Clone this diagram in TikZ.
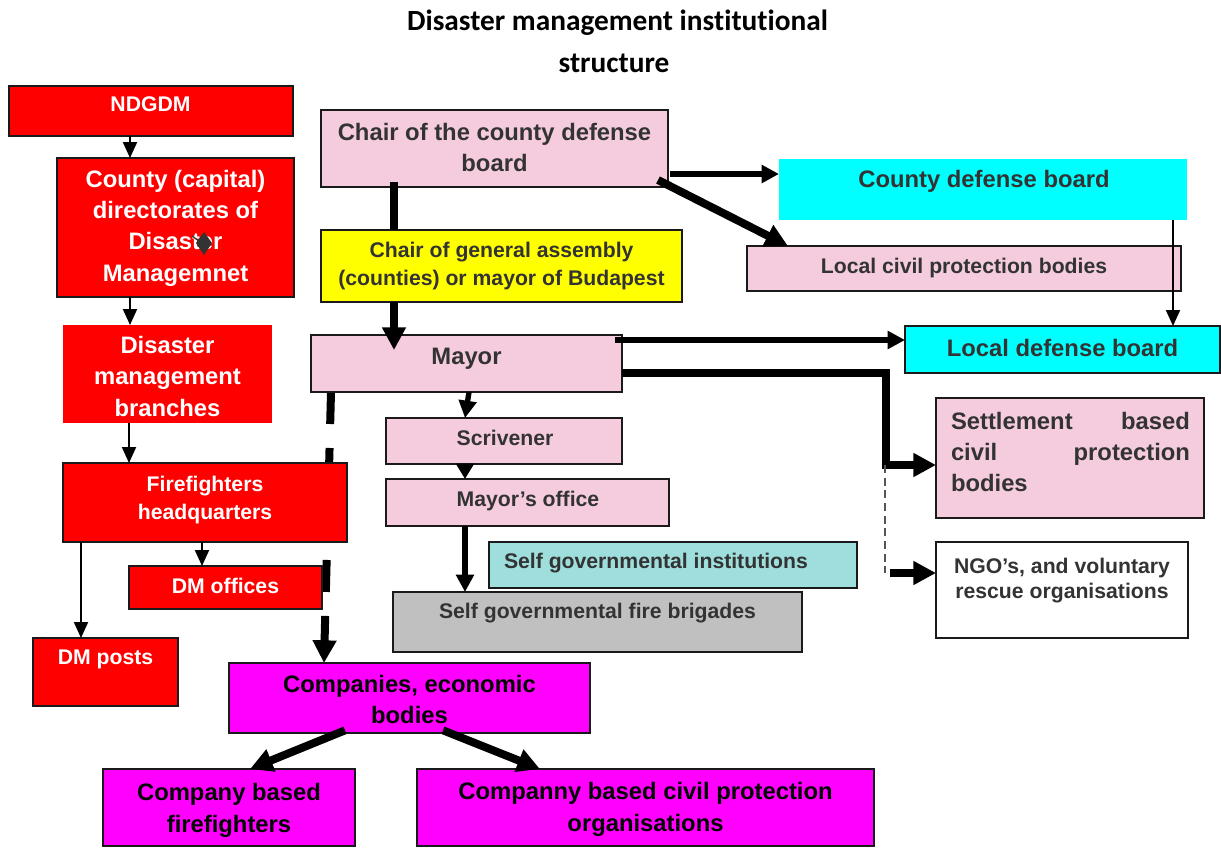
\documentclass[tikz,border=0pt]{standalone}
\usepackage{fontspec}
\setmainfont{Liberation Sans}
\newfontfamily\titlefont[Ligatures=NoCommon]{Carlito}
\usetikzlibrary{arrows.meta,calc}

\definecolor{redbox}{HTML}{FF0000}
\definecolor{pinkbox}{HTML}{F5CCDE}
\definecolor{yellowbox}{HTML}{FFFF00}
\definecolor{cyanbox}{HTML}{00FFFF}
\definecolor{tealbox}{HTML}{9EDEDC}
\definecolor{greybox}{HTML}{C0C0C0}
\definecolor{magbox}{HTML}{FF00FF}
\definecolor{ink}{HTML}{333333}
\definecolor{edge}{HTML}{1A1A1A}
\definecolor{dashgrey}{HTML}{555555}

\pgfdeclarelayer{back}
\pgfsetlayers{back,main}

% box helper: style, name, x1, y1, x2, y2 (pixel grid, y downwards)
\newcommand{\orgbox}[6][]{%
  \node[#1, minimum width={(#5-#3)*0.75pt}, minimum height={(#6-#4)*0.75pt}]
    (#2) at ({(#3+#5)/2},{(#4+#6)/2}) {};}

\tikzset{
  every node/.style={inner sep=0pt, outer sep=0pt},
  framed/.style={draw=edge, line width=1.5pt},
  redb/.style={fill=redbox},
  pinkb/.style={fill=pinkbox, framed},
  big/.style={font=\bfseries\fontsize{17.85}{23.6}\selectfont},
  med/.style={font=\bfseries\fontsize{15.9}{21}\selectfont},
  titletext/.style={font=\titlefont\bfseries\fontsize{22}{24}\selectfont},
  whitetext/.style={text=white, anchor=north, align=center},
  inktext/.style={text=ink, anchor=north, align=center},
  blacktext/.style={text=black, anchor=north, align=center},
  thinarrow/.style={draw=black, line width=1.5pt, -{Triangle[length=12pt,width=10.5pt]}},
  midarrow/.style={draw=black, line width=4pt, -{Triangle[length=13pt,width=13pt]}},
  fatarrow/.style={draw=black, line width=6pt, -{Triangle[length=17pt,width=17pt]}},
  fatline/.style={draw=black, line width=6pt},
}

\begin{document}
\begin{tikzpicture}[x=0.75pt, y=-0.75pt]
\useasboundingbox (0,0) rectangle (1221,847);

% ---------- title ----------
\node[titletext] (title1) at (617.5,23) {Disaster management institutional};
\node[titletext] (title2) at (614,63) {structure};

% ---------- boxes ----------
\orgbox[redb, framed]{ndgdm}{9}{86}{293}{136}
\orgbox[redb, framed]{county}{57}{158}{294}{297}
\orgbox[redb]{branches}{63}{325}{272}{423}
\orgbox[redb, framed]{fire}{63}{463}{347}{542}
\orgbox[redb, framed]{dmoff}{129}{566}{322}{609}
\orgbox[redb, framed]{dmpost}{33}{638}{178}{706}

\orgbox[pinkb]{chaircty}{321}{110}{668}{187}
\orgbox[fill=yellowbox, framed]{chairgen}{321}{230}{682}{302}
\orgbox[pinkb]{mayor}{311}{335}{622}{392}
\orgbox[pinkb]{scriv}{386}{418}{622}{464}
\orgbox[pinkb]{moff}{386}{479}{669}{526}
\orgbox[fill=tealbox, framed]{inst}{489}{542}{857}{588}
\orgbox[fill=greybox, framed]{brig}{393}{592}{802}{652}

\orgbox[fill=cyanbox]{cdb}{779}{159}{1187}{220}
\orgbox[pinkb]{lcp}{747}{246}{1181}{291}
\orgbox[fill=cyanbox, framed]{ldb}{905}{326}{1220}{373}
\orgbox[pinkb]{settle}{936}{398}{1204}{518}
\orgbox[fill=white, framed]{ngo}{936}{542}{1188}{638}

\orgbox[fill=magbox, framed]{comp}{229}{663}{590}{733}
\orgbox[fill=magbox, framed]{cbf}{103}{769}{355}{846}
\orgbox[fill=magbox, framed]{ccp}{417}{769}{874}{846}

% ---------- texts ----------
\node[med, whitetext] (ndgdm-t) at (150.5,97) {NDGDM};
\node[big, whitetext, font=\bfseries\fontsize{17.85}{23.5}\selectfont] (county-t) at (175.5,170)
  {County (capital)\\directorates of\\Disaster\\Managemnet};
\fill[ink] (204,232) -- (212,243) -- (204,255) -- (196,243) -- cycle;
\draw[ink, line width=1pt] (192,236) -- (199,241);
\node[big, whitetext] (branches-t) at (167.5,336) {Disaster\\management\\branches};
\node[med, whitetext] (fire-t) at (205,476) {Firefighters\\headquarters};
\node[med, whitetext] (dmoff-t) at (225.5,578) {DM offices};
\node[med, whitetext] (dmpost-t) at (105.5,650) {DM posts};

\node[big, inktext, font=\bfseries\fontsize{17.85}{23.2}\selectfont] (chaircty-t) at (494.5,123) {Chair of the county defense\\board};
\node[med, inktext] (chairgen-t) at (501.5,242) {Chair of general assembly\\(counties) or mayor of Budapest};
\node[big, inktext] (mayor-t) at (466.5,348) {Mayor};
\node[med, inktext] (scriv-t) at (505,430) {Scrivener};
\node[med, inktext] (moff-t) at (528,491) {Mayor’s office};
\node[med, inktext, anchor=north west] (inst-t) at (504,553) {Self governmental institutions};
\node[med, inktext] (brig-t) at (597.5,603) {Self governmental fire brigades};

\node[big, inktext] (cdb-t) at (984,170) {County defense board};
\node[med, inktext] (lcp-t) at (964,258) {Local civil protection bodies};
\node[big, inktext] (ldb-t) at (1062.5,339) {Local defense board};
\node[big, inktext, anchor=north west, align=left, text width=179.25pt,
      font=\bfseries\fontsize{17.85}{23.2}\selectfont] (settle-t) at (951,412)
  {Settlement\hfill based\\civil\hfill protection\\bodies};
\node[med, inktext, font=\bfseries\fontsize{15.9}{19}\selectfont] (ngo-t) at (1062,558) {NGO’s, and voluntary\\rescue organisations};

\node[big, blacktext] (comp-t) at (409.5,675) {Companies, economic\\bodies};
\node[big, blacktext, font=\bfseries\fontsize{17.85}{24}\selectfont] (cbf-t) at (229,783) {Company based\\firefighters};
\node[big, blacktext, font=\bfseries\fontsize{17.85}{24}\selectfont] (ccp-t) at (645.5,782) {Companny based civil protection\\organisations};

% ---------- helper x / y positions for connectors ----------
\coordinate (x81) at (81,0);
\coordinate (x129) at (129,0);
\coordinate (x130) at (130,0);
\coordinate (x202) at (202,0);
\coordinate (x250) at (250,0);
\coordinate (x324) at (324,0);
\coordinate (x331) at (331,0);
\coordinate (x345) at (345,0);
\coordinate (x394) at (394,0);
\coordinate (x443) at (443,0);
\coordinate (x465) at (465,0);
\coordinate (x469) at (469,0);
\coordinate (x540) at (540,0);
\coordinate (x615) at (615,0);
\coordinate (x788) at (788,0);
\coordinate (x885) at (885,0);
\coordinate (x886) at (886,0);
\coordinate (x890) at (890,0);
\coordinate (x1173) at (1173,0);
\coordinate (y174) at (0,174);
\coordinate (y340) at (0,340);
\coordinate (y373) at (0,373);
\coordinate (y465) at (0,465);
\coordinate (y573) at (0,573);
\coordinate (ctycorner) at ([shift={(-10,-7)}]chaircty.south east);

% ---------- connectors: disaster management chain ----------
\draw[thinarrow] (x130 |- ndgdm.south) -- (x130 |- county.north);
\draw[thinarrow] (x130 |- county.south) -- (x130 |- branches.north);
\draw[thinarrow] (x129 |- branches.south) -- (x129 |- fire.north);
\draw[thinarrow] (x202 |- fire.south) -- (x202 |- dmoff.north);
\draw[thinarrow] (x81 |- fire.south) -- (x81 |- dmpost.north);

% ---------- connectors: defence board chain ----------
\draw[fatline] ([yshift=3.75pt]x394 |- chaircty.south) -- (x394 |- chairgen.north);
\draw[fatarrow] (x394 |- chairgen.south) -- ([yshift=-11.25pt]x394 |- mayor.north);
\draw[midarrow] ([xshift=1.5pt]chaircty.east |- y174) -- (cdb.west |- y174);
\draw[fatarrow] (ctycorner) -- (x788 |- lcp.north);
\draw[thinarrow] (x1173 |- cdb.south) -- (x1173 |- ldb.north);

\draw[midarrow] (x615 |- y340) -- (ldb.west |- y340);
\draw[fatarrow] (mayor.east |- y373) -| (x886 |- y465) -- (settle.west |- y465);
\draw[dashgrey, line width=1pt, dash pattern=on 6pt off 3.5pt] (x885 |- y465) -- (x885 |- y573);
\draw[fatarrow] (x890 |- y573) -- (ngo.west |- y573);

\draw[midarrow] (x469 |- mayor.south) -- (x465 |- scriv.north);
\draw[midarrow, -{Triangle[length=11.5pt,width=13pt]}] (x465 |- scriv.south) -- (x465 |- moff.north);
\draw[midarrow] (x465 |- moff.south) -- (x465 |- brig.north);

% dashed link from the mayor to the companies, passing behind the red boxes
\begin{pgfonlayer}{back}
\draw[fatarrow, dash pattern=on 24pt off 18pt] (x331 |- mayor.south) -- (x324 |- comp.north);
\end{pgfonlayer}

\draw[fatarrow] ([yshift=2pt]x345 |- comp.south) -- (x250 |- cbf.north);
\draw[fatarrow] ([yshift=2pt]x443 |- comp.south) -- (x540 |- ccp.north);

\end{tikzpicture}
\end{document}
